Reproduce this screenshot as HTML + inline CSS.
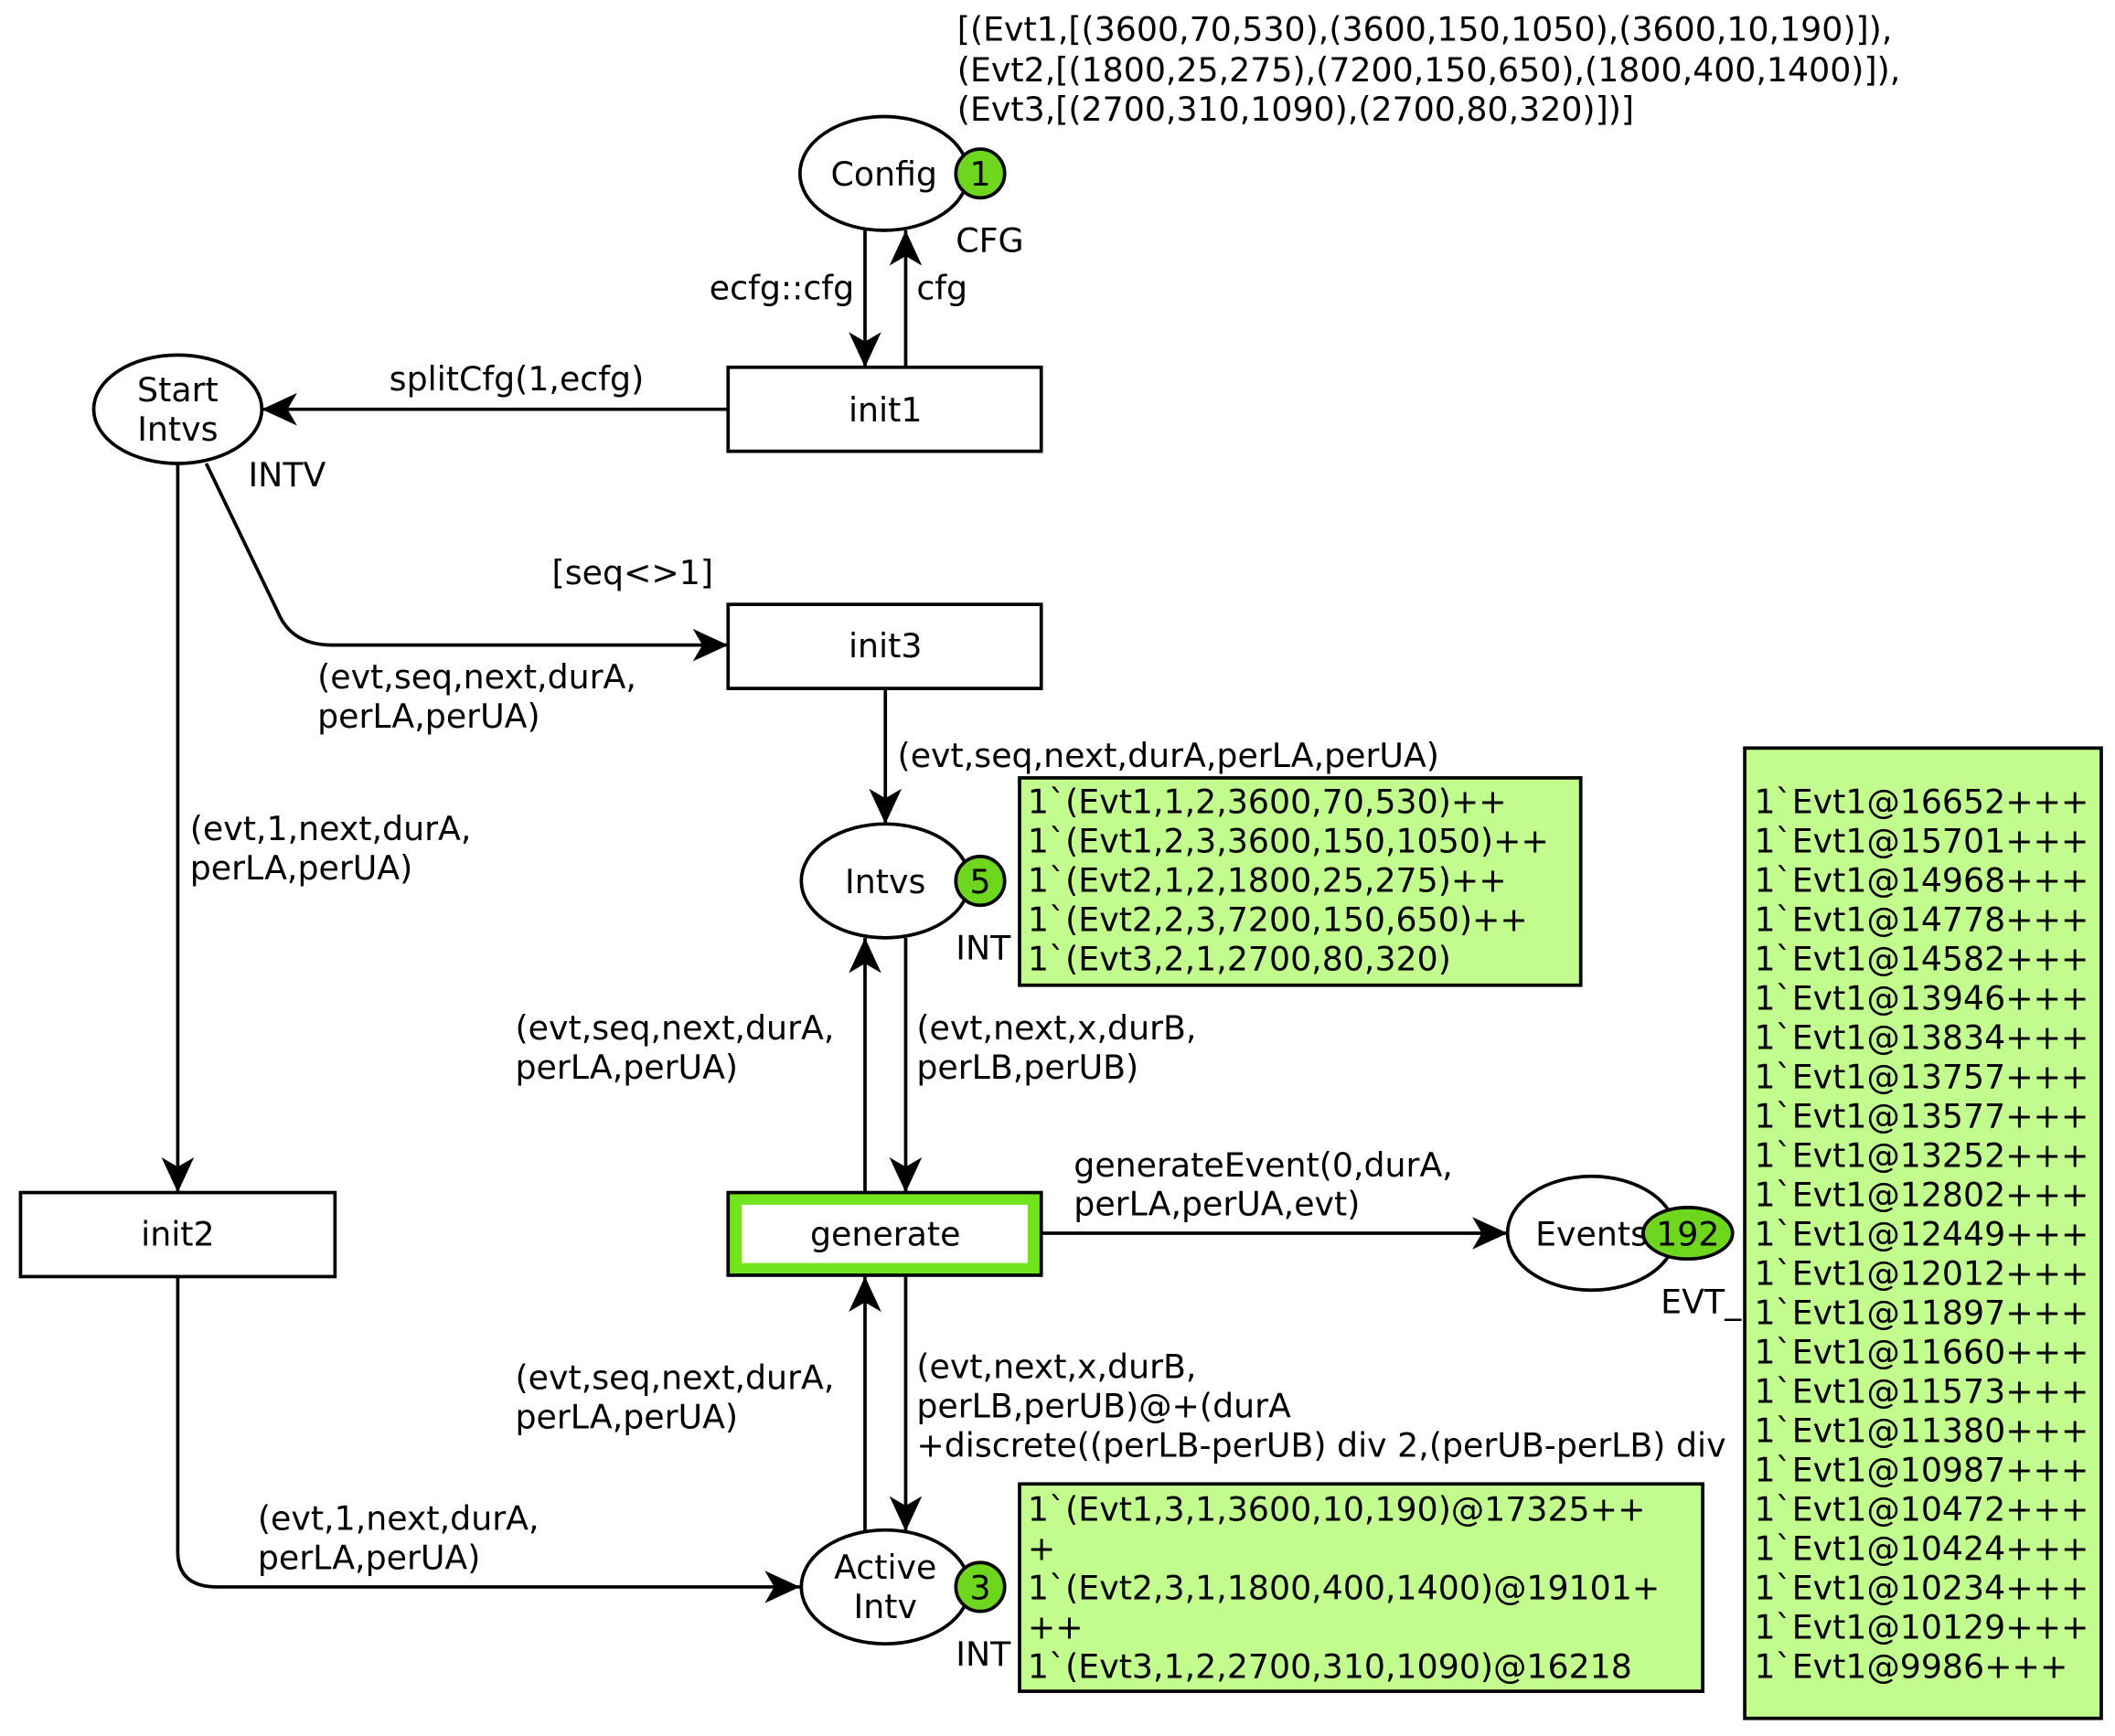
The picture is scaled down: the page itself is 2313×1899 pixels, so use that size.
<!DOCTYPE html>
<html><head><style>html,body{margin:0;padding:0;background:#fff}svg{display:block}text{font-family:"DejaVu Sans","Liberation Sans",sans-serif;font-size:24.5px;fill:#000}</style></head><body>
<svg width="2313" height="1899" viewBox="0 0 1560 1281" xmlns="http://www.w3.org/2000/svg">
<defs><marker id="a" markerWidth="30" markerHeight="30" refX="26" refY="12" orient="auto" markerUnits="userSpaceOnUse"><path d="M0,0 L26,12 L0,24 L7,12 Z" fill="#000"/></marker></defs>
<g stroke="#000" stroke-width="2.5" fill="none">
<line x1="638" y1="170" x2="638" y2="271" marker-end="url(#a)"/>
<line x1="668" y1="271" x2="668" y2="170" marker-end="url(#a)"/>
<line x1="537" y1="302" x2="193" y2="302" marker-end="url(#a)"/>
<path d="M152,342 L205,452 Q215,476 245,476 L537,476" marker-end="url(#a)"/>
<line x1="653" y1="508" x2="653" y2="608" marker-end="url(#a)"/>
<line x1="131" y1="342" x2="131" y2="880" marker-end="url(#a)"/>
<line x1="638" y1="880" x2="638" y2="692" marker-end="url(#a)"/>
<line x1="668" y1="692" x2="668" y2="880" marker-end="url(#a)"/>
<line x1="768" y1="910" x2="1112" y2="910" marker-end="url(#a)"/>
<line x1="638" y1="1130" x2="638" y2="942" marker-end="url(#a)"/>
<line x1="668" y1="942" x2="668" y2="1130" marker-end="url(#a)"/>
<path d="M131,942 L131,1145 Q131,1171 160,1171 L590,1171" marker-end="url(#a)"/>
<ellipse cx="652" cy="128" rx="62" ry="42" fill="#fff"/>
<ellipse cx="131" cy="302" rx="62" ry="40" fill="#fff"/>
<ellipse cx="653" cy="650" rx="62" ry="42" fill="#fff"/>
<ellipse cx="1174" cy="910" rx="62" ry="42" fill="#fff"/>
<ellipse cx="653" cy="1171" rx="62" ry="42" fill="#fff"/>
<rect x="537" y="271" width="231" height="62" fill="#fff"/>
<rect x="537" y="446" width="231" height="62" fill="#fff"/>
<rect x="15" y="880" width="232" height="62" fill="#fff"/>
<rect x="537" y="880" width="231" height="61" fill="#72e41e"/>
<rect x="547" y="889" width="211" height="43" fill="#fff" stroke="none"/>
<circle cx="723" cy="128" r="18" fill="#6fd61e"/>
<circle cx="723" cy="650" r="18" fill="#6fd61e"/>
<circle cx="723" cy="1171" r="18" fill="#6fd61e"/>
<ellipse cx="1245" cy="910" rx="33" ry="19" fill="#6fd61e"/>
</g>
<g text-anchor="middle">
<text x="652" y="137">Config</text><text x="723" y="137">1</text>
<text x="131" y="296">Start</text><text x="131" y="325">Intvs</text>
<text x="653" y="311">init1</text><text x="653" y="485">init3</text>
<text x="653" y="659">Intvs</text><text x="723" y="659">5</text>
<text x="131" y="919">init2</text><text x="653" y="919">generate</text>
<text x="1174" y="919">Events</text><text x="1245" y="919">192</text>
<text x="653" y="1165">Active</text><text x="653" y="1194">Intv</text><text x="723" y="1180">3</text>
</g>
<text x="706" y="30">[(Evt1,[(3600,70,530),(3600,150,1050),(3600,10,190)]),</text>
<text x="706" y="60">(Evt2,[(1800,25,275),(7200,150,650),(1800,400,1400)]),</text>
<text x="706" y="89">(Evt3,[(2700,310,1090),(2700,80,320)])]</text>
<text x="705" y="186">CFG</text>
<text x="630" y="221" text-anchor="end">ecfg::cfg</text>
<text x="676" y="221">cfg</text>
<text x="287" y="288">splitCfg(1,ecfg)</text>
<text x="183" y="359">INTV</text>
<text x="407" y="431">[seq&lt;&gt;1]</text>
<text x="234" y="508">(evt,seq,next,durA,</text><text x="234" y="537">perLA,perUA)</text>
<text x="662" y="566">(evt,seq,next,durA,perLA,perUA)</text>
<text x="140" y="620">(evt,1,next,durA,</text><text x="140" y="649">perLA,perUA)</text>
<text x="705" y="708">INT</text>
<text x="380" y="767">(evt,seq,next,durA,</text><text x="380" y="796">perLA,perUA)</text>
<text x="676" y="767">(evt,next,x,durB,</text><text x="676" y="796">perLB,perUB)</text>
<text x="792" y="868">generateEvent(0,durA,</text><text x="792" y="897">perLA,perUA,evt)</text>
<text x="1225" y="969">EVT_</text>
<text x="380" y="1025">(evt,seq,next,durA,</text><text x="380" y="1054">perLA,perUA)</text>
<text x="676" y="1017">(evt,next,x,durB,</text><text x="676" y="1046">perLB,perUB)@+(durA</text><text x="676" y="1075">+discrete((perLB-perUB) div 2,(perUB-perLB) div</text>
<text x="190" y="1129">(evt,1,next,durA,</text><text x="190" y="1158">perLA,perUA)</text>
<text x="705" y="1229">INT</text>
<rect x="752" y="574" width="414" height="153" fill="#c2fc8f" stroke="#000" stroke-width="2.5"/>
<text x="758" y="600">1`(Evt1,1,2,3600,70,530)++</text>
<text x="758" y="629">1`(Evt1,2,3,3600,150,1050)++</text>
<text x="758" y="658">1`(Evt2,1,2,1800,25,275)++</text>
<text x="758" y="687">1`(Evt2,2,3,7200,150,650)++</text>
<text x="758" y="716">1`(Evt3,2,1,2700,80,320)</text>
<rect x="752" y="1095" width="504" height="153" fill="#c2fc8f" stroke="#000" stroke-width="2.5"/>
<text x="758" y="1122">1`(Evt1,3,1,3600,10,190)@17325++</text>
<text x="758" y="1151">+</text>
<text x="758" y="1180">1`(Evt2,3,1,1800,400,1400)@19101+</text>
<text x="758" y="1209">++</text>
<text x="758" y="1238">1`(Evt3,1,2,2700,310,1090)@16218</text>
<rect x="1287" y="552" width="263" height="716" fill="#c2fc8f" stroke="#000" stroke-width="2.5"/>
<g>
<text x="1294" y="600">1`Evt1@16652+++</text>
<text x="1294" y="629">1`Evt1@15701+++</text>
<text x="1294" y="658">1`Evt1@14968+++</text>
<text x="1294" y="687">1`Evt1@14778+++</text>
<text x="1294" y="716">1`Evt1@14582+++</text>
<text x="1294" y="745">1`Evt1@13946+++</text>
<text x="1294" y="774">1`Evt1@13834+++</text>
<text x="1294" y="803">1`Evt1@13757+++</text>
<text x="1294" y="832">1`Evt1@13577+++</text>
<text x="1294" y="861">1`Evt1@13252+++</text>
<text x="1294" y="890">1`Evt1@12802+++</text>
<text x="1294" y="919">1`Evt1@12449+++</text>
<text x="1294" y="948">1`Evt1@12012+++</text>
<text x="1294" y="977">1`Evt1@11897+++</text>
<text x="1294" y="1006">1`Evt1@11660+++</text>
<text x="1294" y="1035">1`Evt1@11573+++</text>
<text x="1294" y="1064">1`Evt1@11380+++</text>
<text x="1294" y="1093">1`Evt1@10987+++</text>
<text x="1294" y="1122">1`Evt1@10472+++</text>
<text x="1294" y="1151">1`Evt1@10424+++</text>
<text x="1294" y="1180">1`Evt1@10234+++</text>
<text x="1294" y="1209">1`Evt1@10129+++</text>
<text x="1294" y="1238">1`Evt1@9986+++</text>
</g>
</svg>
</body></html>
